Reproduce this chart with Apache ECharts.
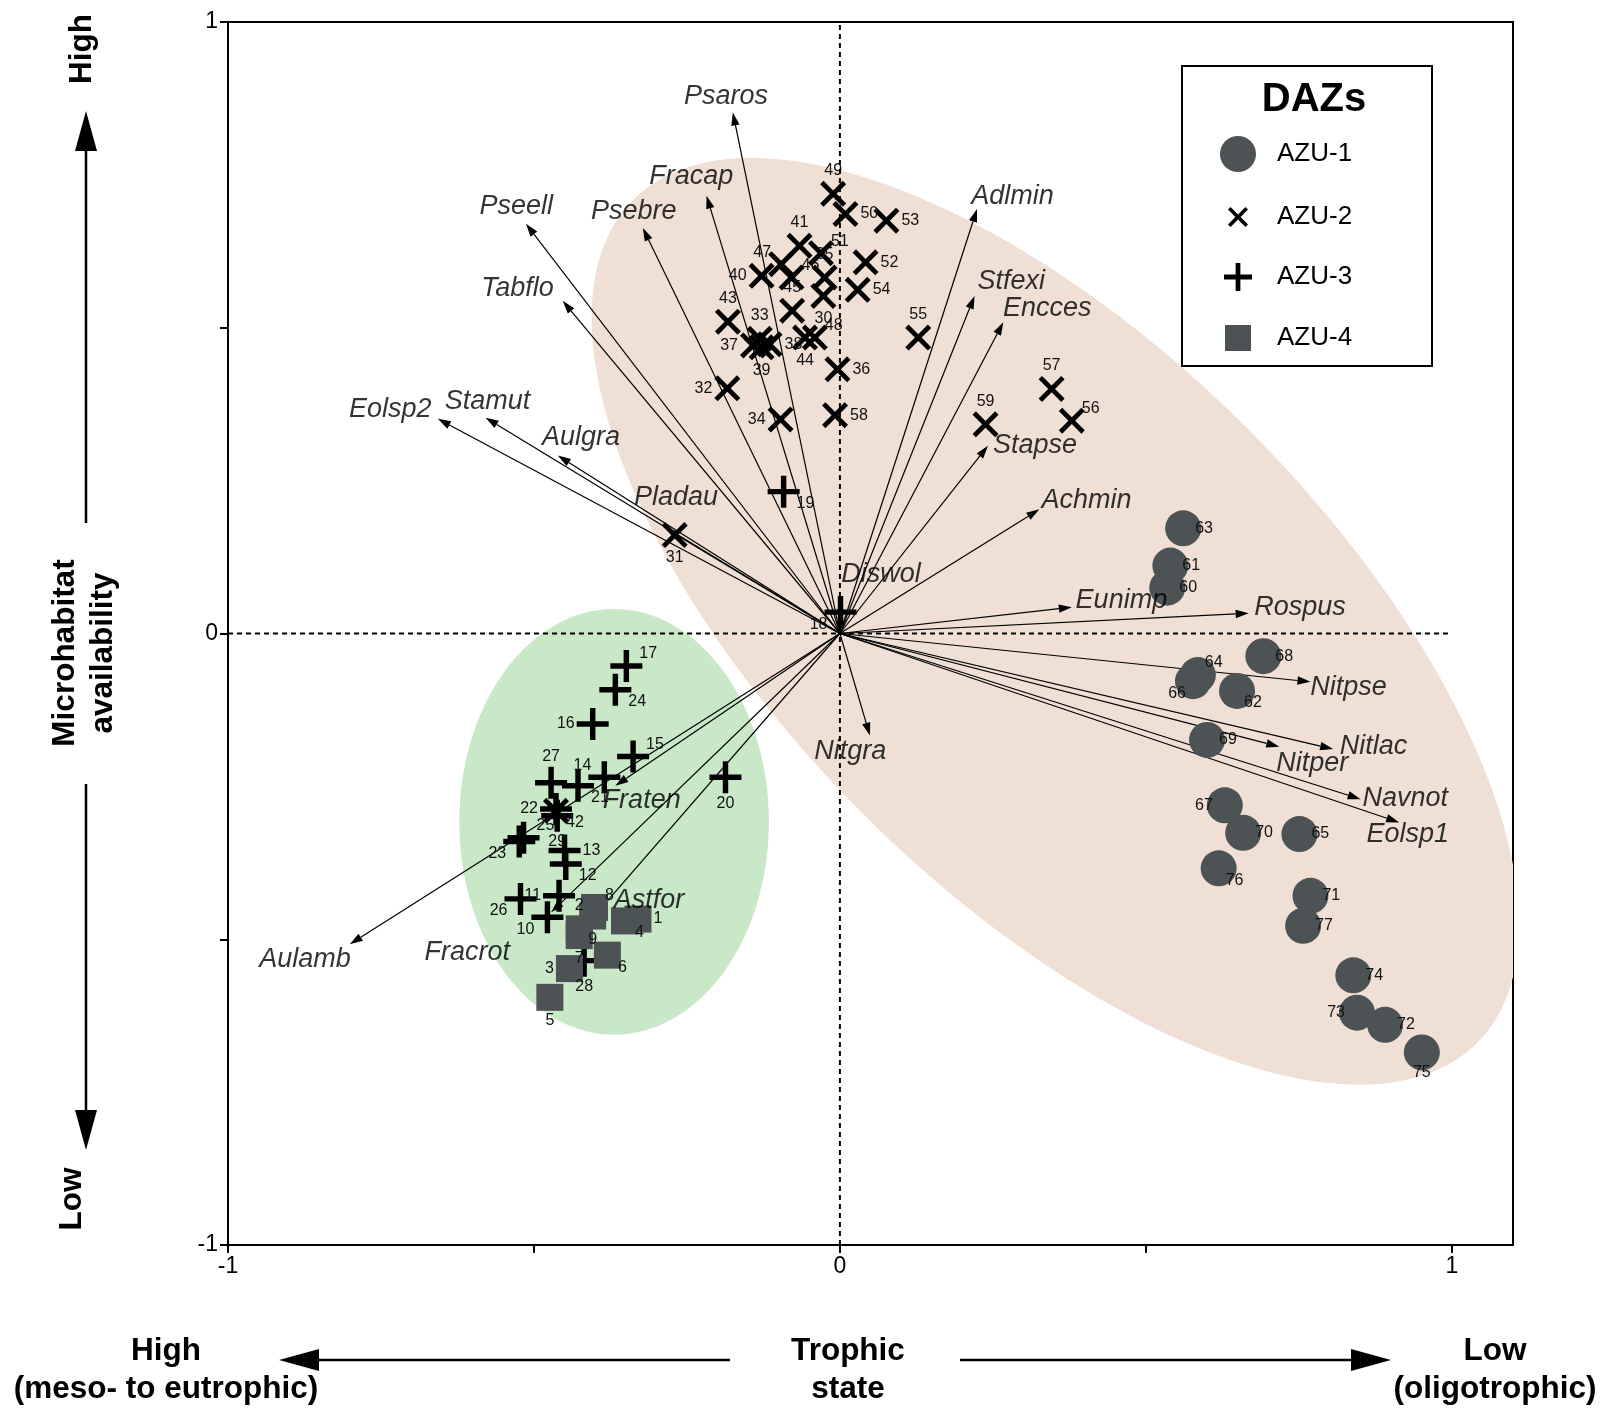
<!DOCTYPE html>
<html>
<head>
<meta charset="utf-8">
<script src="https://cdn.jsdelivr.net/npm/echarts@6/dist/echarts.min.js"></script>
<style>
  html, body { margin: 0; padding: 0; background: #fff; }
  #chart { width: 1607px; height: 1408px; }
</style>
</head>
<body>
<div id="chart"></div>
<script>
// ---- Sample scores: [sample number, axis 1 (trophic), axis 2 (microhabitat)] ----
const azu1 = [
  [63, 0.561, 0.172], [61, 0.540, 0.111], [60, 0.535, 0.075], [68, 0.692, -0.037],
  [64, 0.585, -0.068], [66, 0.577, -0.078], [62, 0.649, -0.094], [69, 0.600, -0.174],
  [67, 0.629, -0.281], [70, 0.659, -0.326], [65, 0.751, -0.328], [76, 0.619, -0.384],
  [71, 0.769, -0.429], [77, 0.757, -0.478], [74, 0.839, -0.559], [73, 0.845, -0.620],
  [72, 0.891, -0.640], [75, 0.951, -0.685]
];
const azu2 = [
  [49, -0.011, 0.719], [50, 0.009, 0.686], [53, 0.076, 0.675], [41, -0.066, 0.634],
  [51, -0.031, 0.622], [47, -0.096, 0.604], [46, -0.079, 0.582], [40, -0.128, 0.585],
  [35, -0.025, 0.582], [52, 0.042, 0.607], [54, 0.029, 0.562], [30, -0.027, 0.552],
  [45, -0.078, 0.528], [43, -0.183, 0.510], [33, -0.131, 0.482], [37, -0.142, 0.471],
  [39, -0.128, 0.468], [38, -0.115, 0.473], [44, -0.057, 0.484], [48, -0.041, 0.484],
  [36, -0.004, 0.432], [55, 0.128, 0.484], [32, -0.184, 0.401], [34, -0.097, 0.350],
  [58, -0.008, 0.357], [57, 0.346, 0.400], [56, 0.379, 0.348], [59, 0.238, 0.342],
  [31, -0.270, 0.161], [42, -0.464, -0.290]
];
const azu3 = [
  [19, -0.092, 0.232], [18, 0.001, 0.035], [17, -0.349, -0.053], [24, -0.367, -0.092],
  [16, -0.404, -0.148], [15, -0.338, -0.201], [14, -0.385, -0.235], [21, -0.428, -0.249],
  [27, -0.472, -0.244], [22, -0.464, -0.287], [29, -0.462, -0.298], [20, -0.187, -0.235],
  [25, -0.517, -0.334], [23, -0.524, -0.340], [13, -0.450, -0.355], [12, -0.448, -0.377],
  [26, -0.522, -0.434], [11, -0.459, -0.429], [10, -0.478, -0.464], [28, -0.418, -0.535]
];
const azu4 = [
  [1, -0.330, -0.467], [2, -0.426, -0.483], [3, -0.442, -0.548], [4, -0.352, -0.470],
  [5, -0.474, -0.595], [6, -0.380, -0.526], [7, -0.426, -0.494], [8, -0.401, -0.448],
  [9, -0.404, -0.462]
];

// ---- Taxon vectors: [code, axis 1 tip, axis 2 tip] ----
const taxa = [
  ['Psaros', -0.175, 0.852], ['Fracap', -0.218, 0.716], ['Pseell', -0.513, 0.670],
  ['Psebre', -0.322, 0.663], ['Tabflo', -0.453, 0.544], ['Eolsp2', -0.657, 0.351],
  ['Stamut', -0.579, 0.353], ['Aulgra', -0.461, 0.291], ['Pladau', -0.285, 0.172],
  ['Adlmin', 0.224, 0.694], ['Stfexi', 0.220, 0.552], ['Encces', 0.267, 0.509],
  ['Stapse', 0.242, 0.307], ['Achmin', 0.326, 0.203], ['Diswol', 0.001, 0.053],
  ['Eunimp', 0.379, 0.043], ['Rospus', 0.668, 0.033], ['Nitpse', 0.769, -0.079],
  ['Nitlac', 0.806, -0.189], ['Nitper', 0.718, -0.185], ['Navnot', 0.851, -0.271],
  ['Eolsp1', 0.914, -0.309], ['Nitgra', 0.049, -0.167], ['Fraten', -0.367, -0.249],
  ['Astfor', -0.418, -0.481], ['Fracrot', -0.472, -0.456], ['Aulamb', -0.801, -0.508]
];
// Where each taxon name sits (axis units)
const taxonLabelAnchor = {
  Psaros: [-0.186, 0.878], Fracap: [-0.243, 0.747], Pseell: [-0.529, 0.698],
  Psebre: [-0.337, 0.690], Tabflo: [-0.527, 0.564], Eolsp2: [-0.735, 0.367],
  Stamut: [-0.576, 0.380], Aulgra: [-0.423, 0.320], Pladau: [-0.268, 0.223],
  Adlmin: [0.282, 0.715], Stfexi: [0.280, 0.576], Encces: [0.339, 0.531],
  Stapse: [0.319, 0.307], Achmin: [0.403, 0.218], Diswol: [0.067, 0.097],
  Eunimp: [0.460, 0.054], Rospus: [0.752, 0.042], Nitpse: [0.831, -0.089],
  Nitlac: [0.872, -0.184], Nitper: [0.772, -0.213], Navnot: [0.924, -0.270],
  Eolsp1: [0.928, -0.328], Nitgra: [0.017, -0.193], Fraten: [-0.324, -0.273],
  Astfor: [-0.312, -0.437], Fracrot: [-0.609, -0.521], Aulamb: [-0.874, -0.533]
};

// ---- Zone envelopes: [centre x, centre y, semi-axis 1, semi-axis 2, tilt (deg)] ----
const envelopeUpper = [0.352, 0.020, 0.975, 0.445, -45];
const envelopeLower = [-0.369, -0.308, 0.253, 0.348, 0];

// ---- Axis ticks and tick labels ----
const xTickValues = [-1, -0.5, 0, 0.5, 1];
const yTickValues = [-1, -0.5, 0, 0.5, 1];
const xTickLabels = [-1, 0, 1];
const yTickLabels = [-1, 0, 1];

// ---------------------------------------------------------------------------
const FONT = "Arial, 'Liberation Sans', Helvetica, sans-serif";
const MARK = '#4d5254';
const PLUS = 'path://M4.15,0H5.85V4.15H10V5.85H5.85V10H4.15V5.85H0V4.15H4.15Z';
const CROSS = 'path://M0,1.3L1.3,0L5,3.7L8.7,0L10,1.3L6.3,5L10,8.7L8.7,10L5,6.3L1.3,10L0,8.7L3.7,5Z';
const SQUARE = 'path://M0,0H10V10H0Z';

// Which side of its mark each sample number is written on (default: right)
const sampleLabelSide = {
  64: 'tr', 66: 'bl', 62: 'br', 67: 'l', 76: 'br', 73: 'l', 75: 'b',
  49: 't', 41: 't', 51: 'tr', 47: 'tl', 46: 'tr', 40: 'l', 35: 't', 30: 'b', 45: 't',
  43: 't', 33: 't', 37: 'l', 39: 'b', 44: 'b', 48: 'tr', 55: 't', 32: 'l', 34: 'l',
  57: 't', 56: 'tr', 59: 't', 31: 'b', 42: 'br',
  10: 'bl', 11: 'l', 12: 'br', 14: 'tl', 15: 'tr', 16: 'l', 17: 'tr', 18: 'bl', 19: 'br',
  20: 'b', 21: 'br', 22: 'l', 23: 'bl', 24: 'br', 25: 'tr', 26: 'bl', 27: 't', 28: 'b', 29: 'b',
  2: 't', 3: 'l', 4: 'br', 5: 'b', 6: 'br', 7: 'b', 8: 'tr', 9: 'b'
};
const SIDES = {
  r: ['right', [0, 0]], l: ['left', [0, 0]], t: ['top', [0, 0]], b: ['bottom', [0, 0]],
  tr: ['right', [-5, -12]], br: ['right', [-5, 12]], tl: ['left', [5, -12]], bl: ['left', [5, 12]]
};
function sampleLabel(id, dist) {
  const s = SIDES[sampleLabelSide[id] || 'r'];
  return { position: s[0], offset: s[1], distance: dist };
}

function sampleSeries(name, rows, symbol, size, color, dist) {
  return {
    name: name, type: 'scatter', symbol: symbol, symbolSize: size, z: 6,
    encode: { x: 1, y: 2 },
    itemStyle: { color: color, opacity: 1 },
    label: {
      show: true, formatter: p => String(p.value[0]),
      fontSize: 16, color: '#111', fontFamily: FONT
    },
    data: rows.map(r => ({ value: r, label: sampleLabel(r[0], dist) }))
  };
}

function envelopeSeries(params, color) {
  return {
    type: 'custom', coordinateSystem: 'cartesian2d', clip: true, silent: true, z: 1,
    data: [params],
    renderItem: function (p, api) {
      const cx = api.value(0), cy = api.value(1), a = api.value(2), b = api.value(3);
      const th = api.value(4) * Math.PI / 180;
      const pts = [];
      for (let i = 0; i < 180; i++) {
        const t = i / 180 * Math.PI * 2;
        const ex = a * Math.cos(t), ey = b * Math.sin(t);
        pts.push(api.coord([cx + ex * Math.cos(th) - ey * Math.sin(th),
                            cy + ex * Math.sin(th) + ey * Math.cos(th)]));
      }
      return { type: 'polygon', shape: { points: pts }, style: { fill: color } };
    }
  };
}

const vectorSeries = {
  type: 'custom', coordinateSystem: 'cartesian2d', silent: true, z: 4,
  encode: { x: 0, y: 1 },
  data: taxa.map(t => [t[1], t[2]]),
  renderItem: function (p, api) {
    const o = api.coord([0, 0]);
    const q = api.coord([api.value(0), api.value(1)]);
    const dx = q[0] - o[0], dy = q[1] - o[1];
    const L = Math.hypot(dx, dy), ux = dx / L, uy = dy / L;
    const hl = 13, hw = 4.2;
    const bx = q[0] - ux * hl, by = q[1] - uy * hl;
    return {
      type: 'group', children: [
        { type: 'line', shape: { x1: o[0], y1: o[1], x2: bx, y2: by },
          style: { stroke: '#000', lineWidth: 1.2 } },
        { type: 'polygon', shape: { points: [[q[0], q[1]], [bx - uy * hw, by + ux * hw], [bx + uy * hw, by - ux * hw]] },
          style: { fill: '#000' } }
      ]
    };
  }
};

const taxonNameSeries = {
  type: 'scatter', symbol: 'circle', symbolSize: 1, z: 7, silent: true,
  itemStyle: { color: 'rgba(0,0,0,0)' },
  label: {
    show: true, position: 'inside', formatter: '{b}',
    fontSize: 27, fontStyle: 'italic', color: '#000', fontFamily: FONT
  },
  data: taxa.map(t => ({ name: t[0], value: taxonLabelAnchor[t[0]] }))
};

const dashed = { color: '#000', width: 2, type: [5, 4] };
const zeroLines = [
  { type: 'line', z: 3, silent: true, showSymbol: false, lineStyle: dashed, data: [[0, -1], [0, 1]] },
  { type: 'line', z: 3, silent: true, showSymbol: false, lineStyle: dashed, data: [[-1, 0], [1, 0]] }
];

function axisOptions(min, max, ticks, labels) {
  return {
    type: 'value', min: min, max: max, interval: 0.5,
    axisLine: { show: true, onZero: false, lineStyle: { color: '#000', width: 2 } },
    axisTick: { show: true, length: 8, customValues: ticks, lineStyle: { color: '#000', width: 2 } },
    splitLine: { show: false },
    axisLabel: { fontSize: 23, color: '#000', fontFamily: FONT, margin: 10, customValues: labels }
  };
}

// Legend symbols are centred on x = 1238; names start at x = 1277
function legendItem(name, centreY, h) {
  return {
    data: [name], left: 1238 - h / 2, top: centreY - h / 2, padding: 0, orient: 'vertical',
    itemWidth: h, itemHeight: h, selectedMode: false, symbolKeepAspect: true,
    textStyle: { fontSize: 26, color: '#000', fontFamily: FONT,
                 padding: [0, 0, 0, 1277 - (1238 + h / 2) - 5] }
  };
}

function arrowGraphic(x1, y1, x2, y2) {
  const dx = x2 - x1, dy = y2 - y1, L = Math.hypot(dx, dy), ux = dx / L, uy = dy / L;
  const hl = 40, hw = 11;
  const bx = x2 - ux * hl, by = y2 - uy * hl;
  return [
    { type: 'line', shape: { x1: x1, y1: y1, x2: bx, y2: by }, style: { stroke: '#000', lineWidth: 2.5 } },
    { type: 'polygon', shape: { points: [[x2, y2], [bx - uy * hw, by + ux * hw], [bx + uy * hw, by - ux * hw]] },
      style: { fill: '#000' } }
  ];
}
function boldText(text, x, y, rot) {
  return {
    type: 'text', x: x, y: y, rotation: rot || 0,
    style: { text: text, fontSize: 31.5, fontWeight: 'bold', fontFamily: FONT, fill: '#000',
             align: 'center', verticalAlign: 'middle', lineHeight: 38 }
  };
}

const chart = echarts.init(document.getElementById('chart'), null, { renderer: 'canvas' });
chart.setOption({
  animation: false,
  backgroundColor: '#fff',
  grid: { left: 228, top: 22, width: 1285, height: 1223, show: true, borderColor: '#000', borderWidth: 2, containLabel: false },
  xAxis: axisOptions(-1, 1.1, xTickValues, xTickLabels),
  yAxis: axisOptions(-1, 1, yTickValues, yTickLabels),
  legend: [
    legendItem('AZU-1', 154, 36),
    legendItem('AZU-2', 214, 20),
    legendItem('AZU-3', 277, 28),
    legendItem('AZU-4', 338, 26)
  ],
  graphic: [
    { type: 'rect', z: 3, shape: { x: 1182, y: 66, width: 250, height: 300 },
      style: { fill: '#fff', stroke: '#000', lineWidth: 2 } },
    { type: 'text', z: 4, x: 1314, y: 100,
      style: { text: 'DAZs', fontSize: 40, fontWeight: 'bold', fontFamily: FONT, fill: '#000',
               align: 'center', verticalAlign: 'middle' } },
    boldText('High', 82, 49, Math.PI / 2),
    boldText('Microhabitat\navailability', 84, 653, Math.PI / 2),
    boldText('Low', 72, 1199, Math.PI / 2),
    boldText('High\n(meso- to eutrophic)', 166, 1370),
    boldText('Trophic\nstate', 848, 1370),
    boldText('Low\n(oligotrophic)', 1495, 1370),
    ...arrowGraphic(86, 523, 86, 111),
    ...arrowGraphic(86, 784, 86, 1150),
    ...arrowGraphic(730, 1360, 279, 1360),
    ...arrowGraphic(960, 1360, 1391, 1360)
  ],
  series: [
    envelopeSeries(envelopeUpper, '#efdfd5'),
    envelopeSeries(envelopeLower, '#c8e8c8'),
    ...zeroLines,
    vectorSeries,
    sampleSeries('AZU-1', azu1, 'circle', 36, MARK, -6),
    sampleSeries('AZU-2', azu2, CROSS, 26, '#000', 2),
    sampleSeries('AZU-3', azu3, PLUS, 32, '#000', 2),
    sampleSeries('AZU-4', azu4, SQUARE, 27, MARK, 2),
    taxonNameSeries
  ]
});
</script>
</body>
</html>
